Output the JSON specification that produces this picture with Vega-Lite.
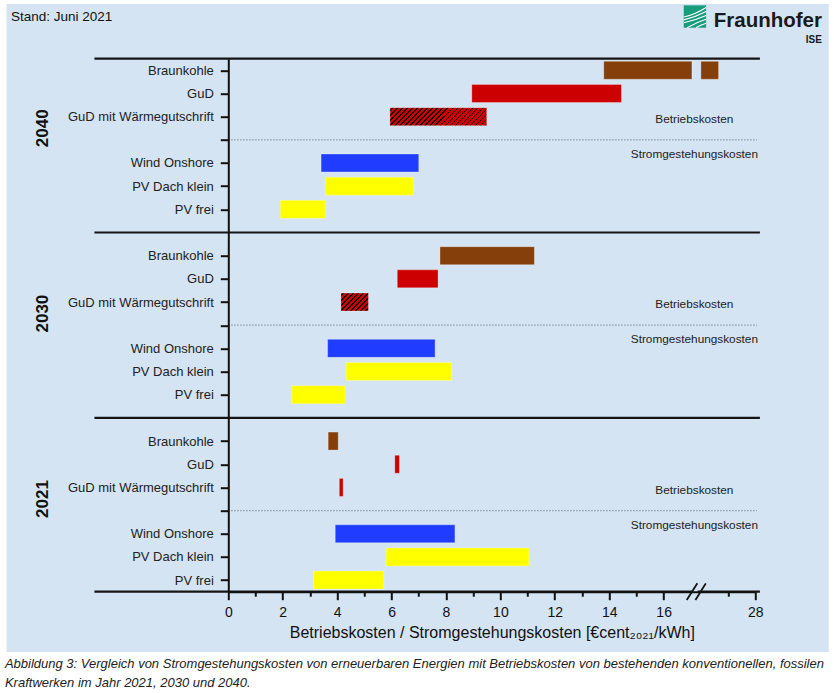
{
  "$schema": "https://vega.github.io/schema/vega-lite/v6.json",
  "width": 527,
  "height": 533,
  "autosize": {"type": "none"},
  "padding": {"left": 228.3, "top": 58.7, "right": 78.7, "bottom": 101.3},
  "background": "white",
  "config": {"view": {"stroke": null}, "font": "Liberation Sans"},
  "datasets": {
    "costs": [
      {"year": "2040", "tech": "Braunkohle", "from": 13.8, "to": 17.04},
      {"year": "2040", "tech": "Braunkohle", "from": 26.0, "to": 26.65},
      {"year": "2040", "tech": "GuD", "from": 8.95, "to": 14.45},
      {"year": "2040", "tech": "GuD mit Wärmegutschrift", "from": 5.94, "to": 9.5},
      {"year": "2040", "tech": "Wind Onshore", "from": 3.41, "to": 7.0},
      {"year": "2040", "tech": "PV Dach klein", "from": 3.58, "to": 6.8},
      {"year": "2040", "tech": "PV frei", "from": 1.91, "to": 3.56},
      {"year": "2030", "tech": "Braunkohle", "from": 7.78, "to": 11.25},
      {"year": "2030", "tech": "GuD", "from": 6.21, "to": 7.71},
      {"year": "2030", "tech": "GuD mit Wärmegutschrift", "from": 4.14, "to": 5.15},
      {"year": "2030", "tech": "Wind Onshore", "from": 3.65, "to": 7.6},
      {"year": "2030", "tech": "PV Dach klein", "from": 4.33, "to": 8.22},
      {"year": "2030", "tech": "PV frei", "from": 2.33, "to": 4.29},
      {"year": "2021", "tech": "Braunkohle", "from": 3.67, "to": 4.04},
      {"year": "2021", "tech": "GuD", "from": 6.12, "to": 6.29},
      {"year": "2021", "tech": "GuD mit Wärmegutschrift", "from": 4.08, "to": 4.22},
      {"year": "2021", "tech": "Wind Onshore", "from": 3.93, "to": 8.33},
      {"year": "2021", "tech": "PV Dach klein", "from": 5.8, "to": 11.05},
      {"year": "2021", "tech": "PV frei", "from": 3.13, "to": 5.72}
    ],
    "years": [{"year": "2040"}, {"year": "2030"}, {"year": "2021"}]
  },
  "layer": [
    {
      "data": {"values": [{}]},
      "mark": {"type": "rect", "fill": "#d4e4f2"},
      "encoding": {
        "x": {"datum": -8.15, "type": "quantitative", "axis": null},
        "x2": {"datum": 30.7},
        "y": {"datum": -2.86, "type": "quantitative", "axis": null},
        "y2": {"datum": 25.1}
      }
    },
    {
      "data": {"name": "years"},
      "transform": [{"calculate": "indexof(['2040','2030','2021'], datum.year) * 8 + 3", "as": "sep"}],
      "mark": {"type": "rule", "stroke": "#7a8796", "strokeWidth": 1.2, "strokeDash": [1.2, 1.8]},
      "encoding": {
        "x": {"datum": 0, "type": "quantitative", "axis": {"values": [1, 3, 5, 7, 9, 11, 13, 15, 27], "orient": "bottom", "labels": false, "domain": false, "tickSize": 4.5, "tickWidth": 2, "tickColor": "#111", "title": null, "grid": false, "zindex": 1}},
        "x2": {"datum": 28.06},
        "y": {"field": "sep", "type": "quantitative", "axis": null}
      }
    },
    {
      "data": {"values": [{"boundary": -0.5}, {"boundary": 7}, {"boundary": 15}, {"boundary": 22.5}]},
      "mark": {"type": "rule", "stroke": "#151515", "strokeWidth": 2.2},
      "encoding": {
        "x": {"datum": -4.92, "type": "quantitative", "axis": null},
        "x2": {"datum": 28.17},
        "y": {"field": "boundary", "type": "quantitative", "axis": null}
      }
    },
    {
      "data": {"name": "costs"},
      "transform": [
        {"filter": "datum.tech !== 'GuD mit Wärmegutschrift'"},
        {"calculate": "indexof(['2040','2030','2021'], datum.year) * 8 + indexof(['Braunkohle','GuD','GuD mit Wärmegutschrift','','Wind Onshore','PV Dach klein','PV frei'], datum.tech)", "as": "row"}
      ],
      "mark": {"type": "bar", "size": 18, "orient": "horizontal", "stroke": "#ffffff", "strokeOpacity": 0.3, "strokeWidth": 1},
      "encoding": {
        "y": {
          "field": "row", "type": "quantitative",
          "scale": {"domain": [-0.5, 22.5], "reverse": true, "nice": false, "zero": false, "padding": 0},
          "axis": {
            "orient": "left",
            "values": [0, 1, 2, 3, 4, 5, 6, 8, 9, 10, 11, 12, 13, 14, 16, 17, 18, 19, 20, 21, 22],
            "labelExpr": "['Braunkohle','GuD','GuD mit Wärmegutschrift','','Wind Onshore','PV Dach klein','PV frei'][datum.value % 8]",
            "title": null, "grid": false, "zindex": 1,
            "tickSize": 8, "tickWidth": 2, "tickColor": "#111",
            "domainColor": "#111", "domainWidth": 2,
            "labelFontSize": 13, "labelColor": "#222", "labelPadding": 7, "labelFont": "Liberation Sans"
          }
        },
        "x": {
          "field": "from", "type": "quantitative",
          "scale": {"domain": [0, 17.19, 25.82, 28], "range": [0, 467.7, 467.7, 527], "nice": false, "zero": false, "padding": 0},
          "axis": {
            "orient": "bottom",
            "values": [0, 2, 4, 6, 8, 10, 12, 14, 16, 28],
            "format": "d",
            "title": "Betriebskosten / Stromgestehungskosten [€cent₂₀₂₁/kWh]",
            "grid": false, "zindex": 1,
            "tickSize": 8, "tickWidth": 2, "tickColor": "#111",
            "domainColor": "#111", "domainWidth": 2,
            "labelFontSize": 14, "labelColor": "#111", "labelPadding": 6, "labelFont": "Liberation Sans",
            "labelFlush": false, "labelOverlap": false,
            "titleFontSize": 16, "titleFontWeight": "normal", "titleColor": "#111", "titlePadding": 5, "titleFont": "Liberation Sans"
          }
        },
        "x2": {"field": "to"},
        "color": {
          "field": "tech", "type": "nominal",
          "scale": {"domain": ["Braunkohle", "GuD", "Wind Onshore", "PV Dach klein", "PV frei"], "range": ["#843f0b", "#cc0000", "#1f3cff", "#ffff00", "#ffff00"]},
          "legend": null
        }
      }
    },
    {
      "data": {"name": "costs"},
      "transform": [
        {"filter": "datum.tech === 'GuD mit Wärmegutschrift'"},
        {"calculate": "indexof(['2040','2030','2021'], datum.year) * 8 + indexof(['Braunkohle','GuD','GuD mit Wärmegutschrift','','Wind Onshore','PV Dach klein','PV frei'], datum.tech)", "as": "row"}
      ],
      "mark": {"type": "bar", "size": 18, "orient": "horizontal", "stroke": "#ffffff", "strokeOpacity": 0.3, "strokeWidth": 1},
      "encoding": {
        "y": {"field": "row", "type": "quantitative", "axis": null},
        "x": {"field": "from", "type": "quantitative", "axis": null},
        "x2": {"field": "to"},
        "fill": {
          "condition": [
            {"test": "datum.year === '2040'", "value": {"gradient": "linear", "x1": 0, "y1": 0, "x2": 1.15, "y2": 0.214, "stops": [
              {"offset": 0, "color": "#cc0000"},
              {"offset": 0.02, "color": "#cc0000"}, {"offset": 0.02, "color": "#1a0000"}, {"offset": 0.032, "color": "#1a0000"}, {"offset": 0.032, "color": "#cc0000"},
              {"offset": 0.0635, "color": "#cc0000"}, {"offset": 0.0635, "color": "#1a0000"}, {"offset": 0.0755, "color": "#1a0000"}, {"offset": 0.0755, "color": "#cc0000"},
              {"offset": 0.107, "color": "#cc0000"}, {"offset": 0.107, "color": "#1a0000"}, {"offset": 0.119, "color": "#1a0000"}, {"offset": 0.119, "color": "#cc0000"},
              {"offset": 0.1505, "color": "#cc0000"}, {"offset": 0.1505, "color": "#1a0000"}, {"offset": 0.1625, "color": "#1a0000"}, {"offset": 0.1625, "color": "#cc0000"},
              {"offset": 0.194, "color": "#cc0000"}, {"offset": 0.194, "color": "#1a0000"}, {"offset": 0.206, "color": "#1a0000"}, {"offset": 0.206, "color": "#cc0000"},
              {"offset": 0.2375, "color": "#cc0000"}, {"offset": 0.2375, "color": "#1a0000"}, {"offset": 0.2495, "color": "#1a0000"}, {"offset": 0.2495, "color": "#cc0000"},
              {"offset": 0.281, "color": "#cc0000"}, {"offset": 0.281, "color": "#1a0000"}, {"offset": 0.293, "color": "#1a0000"}, {"offset": 0.293, "color": "#cc0000"},
              {"offset": 0.3245, "color": "#cc0000"}, {"offset": 0.3245, "color": "#1a0000"}, {"offset": 0.3365, "color": "#1a0000"}, {"offset": 0.3365, "color": "#cc0000"},
              {"offset": 0.368, "color": "#cc0000"}, {"offset": 0.368, "color": "#1a0000"}, {"offset": 0.38, "color": "#1a0000"}, {"offset": 0.38, "color": "#cc0000"},
              {"offset": 0.4115, "color": "#cc0000"}, {"offset": 0.4115, "color": "#1a0000"}, {"offset": 0.4235, "color": "#1a0000"}, {"offset": 0.4235, "color": "#cc0000"},
              {"offset": 0.455, "color": "#cc0000"}, {"offset": 0.455, "color": "#1a0000"}, {"offset": 0.467, "color": "#1a0000"}, {"offset": 0.467, "color": "#cc0000"},
              {"offset": 0.4985, "color": "#cc0000"}, {"offset": 0.4985, "color": "#1a0000"}, {"offset": 0.5105, "color": "#1a0000"}, {"offset": 0.5105, "color": "#cc0000"},
              {"offset": 0.542, "color": "#cc0000"}, {"offset": 0.542, "color": "#1a0000"}, {"offset": 0.554, "color": "#1a0000"}, {"offset": 0.554, "color": "#cc0000"},
              {"offset": 0.5855, "color": "#cc0000"}, {"offset": 0.5855, "color": "#1a0000"}, {"offset": 0.5975, "color": "#1a0000"}, {"offset": 0.5975, "color": "#cc0000"},
              {"offset": 0.629, "color": "#cc0000"}, {"offset": 0.629, "color": "#1a0000"}, {"offset": 0.641, "color": "#1a0000"}, {"offset": 0.641, "color": "#cc0000"},
              {"offset": 0.6725, "color": "#cc0000"}, {"offset": 0.6725, "color": "#1a0000"}, {"offset": 0.6845, "color": "#1a0000"}, {"offset": 0.6845, "color": "#cc0000"},
              {"offset": 0.716, "color": "#cc0000"}, {"offset": 0.716, "color": "#1a0000"}, {"offset": 0.728, "color": "#1a0000"}, {"offset": 0.728, "color": "#cc0000"},
              {"offset": 0.7595, "color": "#cc0000"}, {"offset": 0.7595, "color": "#1a0000"}, {"offset": 0.7715, "color": "#1a0000"}, {"offset": 0.7715, "color": "#cc0000"},
              {"offset": 0.803, "color": "#cc0000"}, {"offset": 0.803, "color": "#1a0000"}, {"offset": 0.815, "color": "#1a0000"}, {"offset": 0.815, "color": "#cc0000"},
              {"offset": 0.8465, "color": "#cc0000"}, {"offset": 0.8465, "color": "#1a0000"}, {"offset": 0.8585, "color": "#1a0000"}, {"offset": 0.8585, "color": "#cc0000"},
              {"offset": 0.89, "color": "#cc0000"}, {"offset": 0.89, "color": "#1a0000"}, {"offset": 0.902, "color": "#1a0000"}, {"offset": 0.902, "color": "#cc0000"},
              {"offset": 0.9335, "color": "#cc0000"}, {"offset": 0.9335, "color": "#1a0000"}, {"offset": 0.9455, "color": "#1a0000"}, {"offset": 0.9455, "color": "#cc0000"},
              {"offset": 0.977, "color": "#cc0000"}, {"offset": 0.977, "color": "#1a0000"}, {"offset": 0.989, "color": "#1a0000"}, {"offset": 0.989, "color": "#cc0000"},
              {"offset": 1, "color": "#cc0000"}
            ]}},
            {"test": "datum.year === '2030'", "value": {"gradient": "linear", "x1": 0, "y1": 0, "x2": 1.157, "y2": 0.763, "stops": [
              {"offset": 0, "color": "#cc0000"},
              {"offset": 0.04, "color": "#cc0000"}, {"offset": 0.04, "color": "#1a0000"}, {"offset": 0.07, "color": "#1a0000"}, {"offset": 0.07, "color": "#cc0000"},
              {"offset": 0.15, "color": "#cc0000"}, {"offset": 0.15, "color": "#1a0000"}, {"offset": 0.18, "color": "#1a0000"}, {"offset": 0.18, "color": "#cc0000"},
              {"offset": 0.26, "color": "#cc0000"}, {"offset": 0.26, "color": "#1a0000"}, {"offset": 0.29, "color": "#1a0000"}, {"offset": 0.29, "color": "#cc0000"},
              {"offset": 0.37, "color": "#cc0000"}, {"offset": 0.37, "color": "#1a0000"}, {"offset": 0.4, "color": "#1a0000"}, {"offset": 0.4, "color": "#cc0000"},
              {"offset": 0.48, "color": "#cc0000"}, {"offset": 0.48, "color": "#1a0000"}, {"offset": 0.51, "color": "#1a0000"}, {"offset": 0.51, "color": "#cc0000"},
              {"offset": 0.59, "color": "#cc0000"}, {"offset": 0.59, "color": "#1a0000"}, {"offset": 0.62, "color": "#1a0000"}, {"offset": 0.62, "color": "#cc0000"},
              {"offset": 0.7, "color": "#cc0000"}, {"offset": 0.7, "color": "#1a0000"}, {"offset": 0.73, "color": "#1a0000"}, {"offset": 0.73, "color": "#cc0000"},
              {"offset": 0.81, "color": "#cc0000"}, {"offset": 0.81, "color": "#1a0000"}, {"offset": 0.84, "color": "#1a0000"}, {"offset": 0.84, "color": "#cc0000"},
              {"offset": 0.92, "color": "#cc0000"}, {"offset": 0.92, "color": "#1a0000"}, {"offset": 0.95, "color": "#1a0000"}, {"offset": 0.95, "color": "#cc0000"},
              {"offset": 1, "color": "#cc0000"}
            ]}}
          ],
          "value": "#cc0000"
        }
      }
    },
    {
      "data": {"name": "years"},
      "transform": [{"calculate": "indexof(['2040','2030','2021'], datum.year) * 8 + 3", "as": "sep"}],
      "mark": {"type": "text", "text": "Betriebskosten", "fontSize": 11.8, "color": "#222", "align": "center", "baseline": "middle", "yOffset": -21},
      "encoding": {
        "x": {"datum": 17.13, "type": "quantitative", "axis": null},
        "y": {"field": "sep", "type": "quantitative", "axis": null}
      }
    },
    {
      "data": {"name": "years"},
      "transform": [{"calculate": "indexof(['2040','2030','2021'], datum.year) * 8 + 3", "as": "sep"}],
      "mark": {"type": "text", "text": "Stromgestehungskosten", "fontSize": 11.8, "color": "#222", "align": "center", "baseline": "middle", "yOffset": 14},
      "encoding": {
        "x": {"datum": 17.13, "type": "quantitative", "axis": null},
        "y": {"field": "sep", "type": "quantitative", "axis": null}
      }
    },
    {
      "data": {"name": "years"},
      "transform": [{"calculate": "indexof(['2040','2030','2021'], datum.year) * 8 + 2.5", "as": "mid"}],
      "mark": {"type": "text", "fontSize": 17, "fontWeight": "bold", "color": "#111", "angle": 270, "align": "center", "baseline": "middle"},
      "encoding": {
        "x": {"datum": -6.8, "type": "quantitative", "axis": null},
        "y": {"field": "mid", "type": "quantitative", "axis": null},
        "text": {"field": "year"}
      }
    },
    {
      "data": {"values": [{}]},
      "mark": {"type": "rule", "stroke": "#d4e4f2", "strokeWidth": 4},
      "encoding": {
        "x": {"datum": 17.05, "type": "quantitative", "axis": null},
        "x2": {"datum": 25.88},
        "y": {"datum": 22.5, "type": "quantitative", "axis": null}
      }
    },
    {
      "data": {"values": [{}]},
      "mark": {"type": "rule", "stroke": "#111", "strokeWidth": 1.8},
      "encoding": {
        "x": {"datum": 16.85, "type": "quantitative", "axis": null},
        "x2": {"datum": 25.87},
        "y": {"datum": 22.86, "type": "quantitative", "axis": null},
        "y2": {"datum": 22.14}
      }
    },
    {
      "data": {"values": [{}]},
      "mark": {"type": "rule", "stroke": "#111", "strokeWidth": 1.8},
      "encoding": {
        "x": {"datum": 17.17, "type": "quantitative", "axis": null},
        "x2": {"datum": 26.18},
        "y": {"datum": 22.86, "type": "quantitative", "axis": null},
        "y2": {"datum": 22.14}
      }
    },
    {
      "data": {"values": [{}]},
      "mark": {"type": "point", "shape": "square", "size": 500, "filled": true, "color": "#179c7d", "opacity": 1},
      "encoding": {
        "x": {"datum": 17.15, "type": "quantitative", "axis": null},
        "y": {"datum": -2.32, "type": "quantitative", "axis": null}
      }
    },
    {
      "data": {"values": [{}]},
      "mark": {"type": "point", "shape": "M-1,0.05 Q0,-0.15 1,-0.8 M-1,0.3 Q0.05,0.05 1,-0.45 M-1,0.55 Q0.1,0.3 1,-0.1 M-0.7,1 Q0.2,0.5 1,0.25 M0.1,1 Q0.5,0.75 1,0.6", "size": 500, "filled": false, "stroke": "#ffffff", "strokeWidth": 1.1, "opacity": 1},
      "encoding": {
        "x": {"datum": 17.15, "type": "quantitative", "axis": null},
        "y": {"datum": -2.32, "type": "quantitative", "axis": null}
      }
    },
    {
      "data": {"values": [{}]},
      "mark": {"type": "text", "text": "Fraunhofer", "fontSize": 20.5, "fontWeight": "bold", "color": "#1a1a1a", "align": "right", "baseline": "middle"},
      "encoding": {
        "x": {"datum": 30.45, "type": "quantitative", "axis": null},
        "y": {"datum": -2.13, "type": "quantitative", "axis": null}
      }
    },
    {
      "data": {"values": [{}]},
      "mark": {"type": "text", "text": "ISE", "fontSize": 10, "fontWeight": "bold", "color": "#1a1a1a", "align": "right", "baseline": "middle"},
      "encoding": {
        "x": {"datum": 30.45, "type": "quantitative", "axis": null},
        "y": {"datum": -1.31, "type": "quantitative", "axis": null}
      }
    },
    {
      "data": {"values": [{}]},
      "mark": {"type": "text", "text": "Stand: Juni 2021", "fontSize": 13.5, "color": "#111", "align": "left", "baseline": "middle"},
      "encoding": {
        "x": {"datum": -7.99, "type": "quantitative", "axis": null},
        "y": {"datum": -2.32, "type": "quantitative", "axis": null}
      }
    },
    {
      "data": {"values": [{}]},
      "mark": {"type": "text", "text": ["Abbildung 3: Vergleich von Stromgestehungskosten von erneuerbaren Energien mit Betriebskosten von bestehenden konventionellen, fossilen", "Kraftwerken im Jahr 2021, 2030 und 2040."], "fontSize": 13, "fontStyle": "italic", "color": "#222", "align": "left", "baseline": "alphabetic", "lineHeight": 19},
      "encoding": {
        "x": {"datum": -8.21, "type": "quantitative", "axis": null},
        "y": {"datum": 25.81, "type": "quantitative", "axis": null}
      }
    }
  ],
  "resolve": {"axis": {"x": "independent", "y": "independent"}}
}
